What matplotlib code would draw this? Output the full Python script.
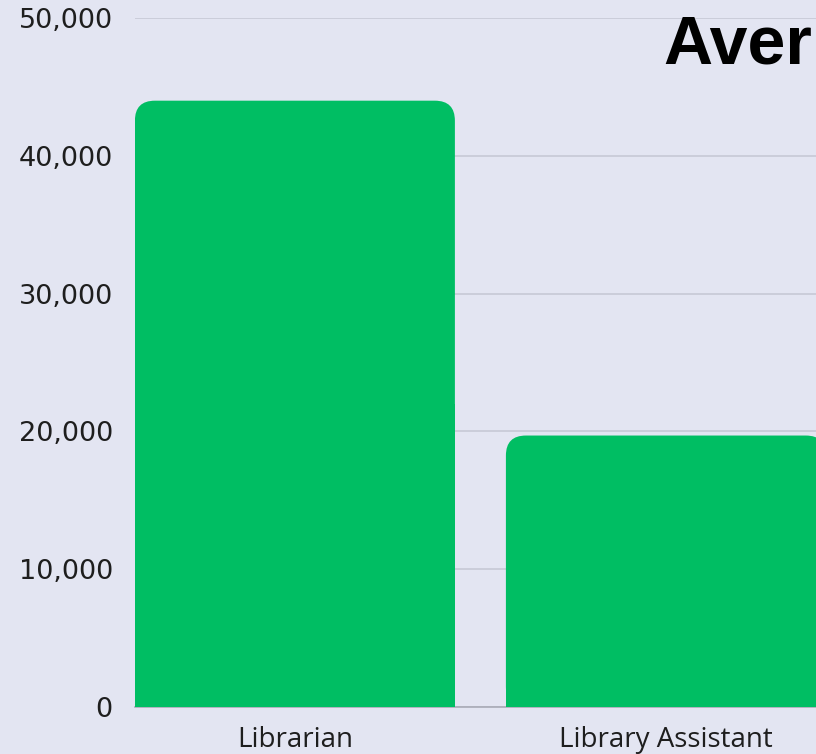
import matplotlib.pyplot as plt
from matplotlib.patches import FancyBboxPatch, Rectangle

# data
jobs = ["Librarian", "Library Assistant"]
salary = [44000, 19700]
yticks = [0, 10000, 20000, 30000, 40000, 50000]
title = "Aver"  # only this much of the title is visible, rest is cropped

bg = "#e3e5f2"
green = "#00be63"

fig = plt.figure(figsize=(8.16, 7.54), dpi=100, facecolor=bg)
# axes runs past the right edge on purpose (the chart is cropped there)
ax = fig.add_axes([135 / 816, 47 / 754, 742 / 816, 689 / 754], facecolor=bg)

bars = ax.bar(range(len(jobs)), salary, width=0.8625, color=green, zorder=3)
ax.set_xlim(-0.431, 1.569)
ax.set_ylim(0, 50000)

# rounded top corners, square bottom
rx = 20 / 371
ry = 20 / 689 * 50000
for b in bars:
    x, w, h = b.get_x(), b.get_width(), b.get_height()
    b.set_visible(False)
    ax.add_patch(FancyBboxPatch((x, 0), w, h,
                                boxstyle="round,pad=0,rounding_size=%f" % rx,
                                mutation_aspect=ry / rx, fc=green, ec="none", zorder=3))
    ax.add_patch(Rectangle((x, 0), w, h / 2, fc=green, ec="none", zorder=3))

ax.set_yticks(yticks)
ax.set_yticklabels(["{:,}".format(v) for v in yticks])
ax.set_xticks(range(len(jobs)))
ax.set_xticklabels(jobs)
ax.tick_params(axis="y", length=0, pad=16, labelsize=19.5, labelcolor="#1e1e1e")
ax.tick_params(axis="x", length=0, pad=14, labelsize=20, labelcolor="#1e1e1e")
for lab in ax.get_xticklabels():
    lab.set_family("Open Sans")

ax.yaxis.grid(True, color="#c7c9d6", linewidth=1.2, zorder=0)
for s in ["top", "right", "left"]:
    ax.spines[s].set_visible(False)
ax.spines["bottom"].set_color("#a9abb6")
ax.spines["bottom"].set_linewidth(1.2)

fig.text(663 / 816, 1 - 63 / 754, title, fontsize=49, fontweight="bold",
         family="Liberation Sans", ha="left", va="baseline", color="black")

plt.savefig("out.png", dpi=100, facecolor=bg)
